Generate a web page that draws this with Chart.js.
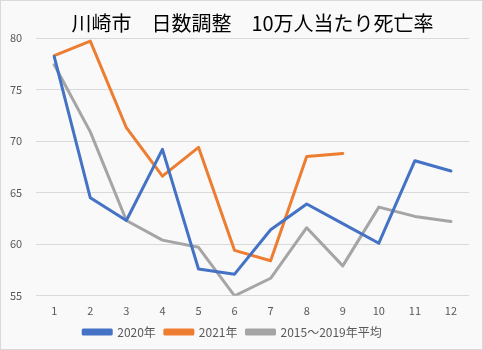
<!DOCTYPE html>
<html>
<head>
<meta charset="utf-8">
<script src="https://cdn.jsdelivr.net/npm/chart.js@4"></script>
<style>
  html, body { margin: 0; padding: 0; background: #fff; }
  #wrap { width: 481px; height: 348px; border: 1px solid #d9d9d9; background: #f9f9f9; }
</style>
</head>
<body>
<div id="wrap"><canvas id="myChart" width="481" height="348"></canvas></div>
<script>
var months = ["1", "2", "3", "4", "5", "6", "7", "8", "9", "10", "11", "12"];
var y2020 = [78.2, 64.5, 62.3, 69.2, 57.6, 57.1, 61.4, 63.9, 62.0, 60.1, 68.1, 67.1];
var y2021 = [78.3, 79.7, 71.3, 66.6, 69.4, 59.4, 58.4, 68.5, 68.8];
var avg1519 = [77.4, 70.9, 62.3, 60.4, 59.7, 55.0, 56.7, 61.6, 57.9, 63.6, 62.7, 62.2];

var jp = "'Noto Sans CJK JP', 'Noto Sans', sans-serif";

var ctx = document.getElementById("myChart").getContext("2d");
var myChart = new Chart(ctx, {
    type: "line",
    data: {
        labels: months,
        datasets: [
            {
                label: "2020年",
                data: y2020,
                borderColor: "#4472c4",
                backgroundColor: "#4472c4",
            },
            {
                label: "2021年",
                data: y2021,
                borderColor: "#ed7d31",
                backgroundColor: "#ed7d31",
            },
            {
                label: "2015～2019年平均",
                data: avg1519,
                borderColor: "#a5a5a5",
                backgroundColor: "#a5a5a5",
            },
        ],
    },
    options: {
        responsive: false,
        animation: false,
        layout: { padding: { left: -5, right: 13, top: 0, bottom: 1 } },
        elements: {
            line: { borderWidth: 3, tension: 0, borderCapStyle: "round", borderJoinStyle: "round" },
            point: { radius: 0 },
        },
        plugins: {
            title: {
                display: true,
                // leading spaces nudge the title right, like the original
                text: "　　川崎市　日数調整　10万人当たり死亡率",
                color: "#000",
                font: { family: jp, size: 20, weight: "normal" },
                padding: { top: 10, bottom: 3 },
            },
            legend: {
                position: "bottom",
                labels: {
                    boxWidth: 28,
                    boxHeight: 4,
                    color: "#595959",
                    font: { family: jp, size: 12 },
                    padding: 9,
                },
            },
            tooltip: { enabled: false },
        },
        scales: {
            x: {
                offset: true,
                grid: { display: false },
                border: { display: false },
                ticks: { color: "#595959", font: { family: jp, size: 11 }, padding: 0 },
            },
            y: {
                min: 55,
                max: 80,
                grid: { color: "#d9d9d9", drawTicks: false },
                border: { display: false },
                ticks: { stepSize: 5, color: "#595959", font: { family: jp, size: 11 }, padding: 14 },
            },
        },
    },
});
</script>
</body>
</html>
